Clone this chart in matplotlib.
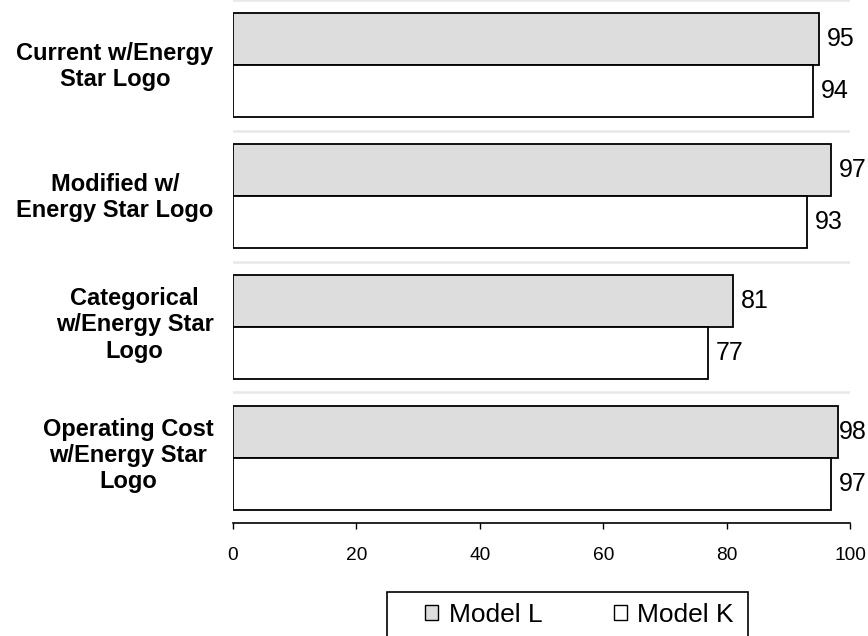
import numpy as np
import matplotlib
matplotlib.use("Agg")
import matplotlib.pyplot as plt
from matplotlib.patches import Patch, Rectangle
from matplotlib.transforms import ScaledTranslation

plt.rcParams['font.family'] = ['Liberation Sans', 'DejaVu Sans']

# --- Datos ---
categorias = ["Current w/Energy\nStar Logo",
              "Modified w/\nEnergy Star Logo",
              "Categorical\nw/Energy Star\nLogo",
              "Operating Cost\nw/Energy Star\nLogo"]
model_l = [95, 97, 81, 98]
model_k = [94, 93, 77, 97]
series = ["Model L", "Model K"]
x_ticks = [0, 20, 40, 60, 80, 100]

fig = plt.figure(figsize=(8.68, 6.36), dpi=100)
ax = fig.add_axes([233 / 868, 1 - 523 / 636, 617 / 868, 523 / 636])

y = np.arange(len(categorias))
alto = 0.398
b1 = ax.barh(y - alto / 2, model_l, height=alto, color="#DDDDDD",
             edgecolor="black", linewidth=1.3, label=series[0])
b2 = ax.barh(y + alto / 2, model_k, height=alto, color="white",
             edgecolor="black", linewidth=1.3, label=series[1])

# etiquetas de valor (como en Excel, se corren si no caben)
etiquetas = []
for yy, v in zip(y - alto / 2, model_l):
    etiquetas.append(ax.annotate(str(v), (v, yy), xytext=(5.5, 0), textcoords="offset points",
                                 ha="left", va="center", fontsize=18, annotation_clip=False))
for yy, v in zip(y + alto / 2, model_k):
    etiquetas.append(ax.annotate(str(v), (v, yy), xytext=(5.5, 0), textcoords="offset points",
                                 ha="left", va="center", fontsize=18, annotation_clip=False))

ax.set_xlim(0, 100)
ax.set_ylim(len(categorias) - 0.5, -0.5)
ax.set_xticks(x_ticks)
ax.tick_params(axis="x", direction="out", length=4.5, width=1, labelsize=13.8, pad=12.5)

ax.set_yticks(y)
ax.set_yticklabels(categorias, fontsize=17, fontweight="bold",
                   multialignment="center", linespacing=1.18)
ax.tick_params(axis="y", length=0, pad=14)
# subir un poco las etiquetas de varias lineas
for lbl in ax.get_yticklabels():
    n = lbl.get_text().count("\n")
    lbl.set_transform(lbl.get_transform() + ScaledTranslation(0, 0.03 * n, fig.dpi_scale_trans))

# lineas separadoras entre grupos
ax.set_yticks(np.arange(len(categorias)) - 0.5, minor=True)
ax.tick_params(axis="y", which="minor", length=0)
ax.grid(axis="y", which="minor", color="#E8E8E8", linewidth=1.8)
ax.set_axisbelow(True)

for s in ["top", "right", "left"]:
    ax.spines[s].set_visible(False)
ax.spines["bottom"].set_linewidth(1.2)

# --- Leyenda ---
fig.patches.append(Rectangle((387 / 868, -0.02), (748 - 387) / 868, (1 - 592 / 636) + 0.02,
                             transform=fig.transFigure, facecolor="white",
                             edgecolor="black", linewidth=1.2))
handles = [Patch(facecolor="#DDDDDD", edgecolor="black", linewidth=1),
           Patch(facecolor="white", edgecolor="black", linewidth=1)]
fig.legend(handles, series, loc="center left", bbox_to_anchor=(425 / 868, 1 - 615 / 636),
           ncol=2, frameon=False, fontsize=19, handlelength=0.5, handleheight=0.5,
           handletextpad=0.4, columnspacing=2.7, borderpad=0, borderaxespad=0)

# mover etiquetas que se salen del borde derecho
fig.canvas.draw()
borde = fig.bbox.x1 - 1
for t in etiquetas:
    bb = t.get_window_extent()
    if bb.x1 > borde:
        dx = (bb.x1 - borde) * 72 / fig.dpi
        t.xyann = (t.xyann[0] - dx, 0)

fig.savefig("out.png", dpi=100)
